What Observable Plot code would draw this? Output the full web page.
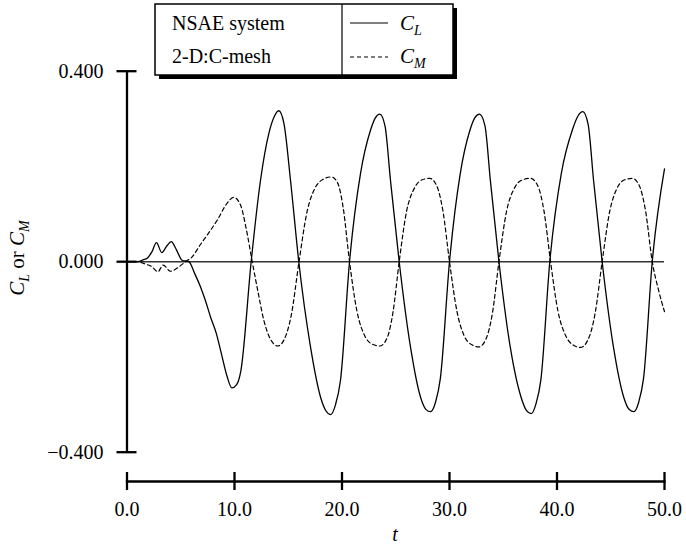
<!DOCTYPE html>
<html><head><meta charset="utf-8">
<script src="https://cdn.jsdelivr.net/npm/d3@7"></script>
<script src="https://cdn.jsdelivr.net/npm/@observablehq/plot@0.6"></script>
<style>
html,body{margin:0;padding:0;background:#fff;}
svg{display:block;}
</style>
</head><body><div id="chart"></div>
<script>
// Data: [t, value]
const cl = [[0,0],[1.0,0],[1.5,0.004],[1.9,0.008],[2.3,0.020],[2.74,0.040],[3.24,0.019],[3.7,0.033],[4.11,0.042],[4.6,0.025],[5.13,0.003],[5.75,0],[6.3,-0.025],[6.84,-0.053],[7.3,-0.082],[7.77,-0.116],[8.3,-0.150],[8.8,-0.195],[9.3,-0.240],[9.75,-0.265],[10.2,-0.258],[10.6,-0.228],[11.55,0],[12.42,0.171],[13.19,0.269],[13.7,0.305],[14.12,0.317],[14.6,0.290],[15.21,0.171],[15.98,0],[17.07,-0.179],[18.0,-0.284],[18.5,-0.313],[18.93,-0.321],[19.4,-0.300],[19.86,-0.249],[20.7,0],[21.72,0.185],[22.65,0.276],[23.1,0.302],[23.52,0.310],[24.0,0.285],[24.51,0.171],[25.32,0],[26.37,-0.179],[27.3,-0.284],[27.8,-0.310],[28.23,-0.315],[28.7,-0.295],[29.15,-0.245],[30.0,0],[31.0,0.185],[31.9,0.276],[32.35,0.302],[32.79,0.310],[33.3,0.285],[33.8,0.171],[34.6,0],[35.65,-0.179],[36.65,-0.284],[37.15,-0.312],[37.6,-0.319],[38.05,-0.298],[38.5,-0.248],[39.33,0],[40.4,0.185],[41.45,0.278],[41.95,0.306],[42.4,0.315],[42.9,0.288],[43.4,0.171],[44.2,0],[45.25,-0.179],[46.2,-0.284],[46.7,-0.310],[47.15,-0.315],[47.6,-0.295],[48.05,-0.245],[48.86,0],[50.0,0.195]];
const cm = [[0,0],[1.0,0],[1.6,-0.004],[2.34,-0.011],[2.87,-0.021],[3.36,-0.007],[4.05,-0.020],[4.82,-0.011],[5.44,0],[6.06,0.010],[6.8,0.035],[7.46,0.056],[8.39,0.087],[9.32,0.123],[9.93,0.135],[10.56,0.119],[11.1,0.068],[11.65,0],[12.2,-0.065],[12.73,-0.123],[13.4,-0.165],[14.03,-0.177],[14.65,-0.162],[15.3,-0.110],[16.0,0],[16.75,0.105],[17.5,0.155],[18.25,0.173],[19.0,0.178],[19.6,0.165],[20.1,0.115],[20.7,0],[21.4,-0.105],[22.1,-0.155],[22.8,-0.173],[23.52,-0.177],[24.2,-0.160],[24.75,-0.105],[25.32,0],[26.0,0.105],[26.75,0.155],[27.45,0.172],[28.17,0.175],[28.8,0.160],[29.4,0.105],[30.0,0],[30.7,-0.105],[31.35,-0.155],[32.05,-0.174],[32.73,-0.179],[33.4,-0.162],[34.0,-0.107],[34.6,0],[35.3,0.105],[36.05,0.155],[36.8,0.172],[37.53,0.175],[38.2,0.160],[38.8,0.105],[39.4,0],[40.1,-0.105],[40.8,-0.155],[41.5,-0.175],[42.19,-0.180],[42.9,-0.163],[43.55,-0.108],[44.2,0],[44.9,0.105],[45.6,0.155],[46.3,0.172],[47.0,0.175],[47.65,0.160],[48.25,0.105],[48.86,0],[49.45,-0.060],[50.0,-0.105]];
const xTicks = [0,10,20,30,40,50];
const yTicks = [-0.4,0,0.4];
const xDomain = [0,50];
const yDomain = [-0.4,0.4];
const legendLeft = ["NSAE system","2-D:C-mesh"];
const seriesSub = ["L","M"];

const toRows = a => a.map(([t,v]) => ({t, v}));
const font = "'Liberation Serif', 'Times New Roman', serif";

const plot = Plot.plot({
  width: 686, height: 549,
  marginLeft: 126.5, marginRight: 22, marginTop: 70.7, marginBottom: 68,
  style: {fontFamily: font, fontSize: "20px", color: "#000", background: "#fff", overflow: "visible"},
  x: {domain: xDomain},
  y: {domain: yDomain, range: [451.7, 70.7]},
  marks: [
    Plot.frame({anchor: "bottom", strokeWidth: 2.3}),
    Plot.ruleX([0], {y1: yDomain[0], y2: yDomain[1], strokeWidth: 2.3}),
    Plot.axisY({ticks: yTicks, tickFormat: d3.format(".3f"), tickSize: 20, dx: 10, tickPadding: 13.5, strokeWidth: 2.3, label: null}),
    Plot.axisX({ticks: xTicks, tickFormat: d3.format(".1f"), tickSize: 18, dy: -9, tickPadding: 11, strokeWidth: 2.3, label: null}),
    Plot.ruleY([0], {x1: xDomain[0], x2: xDomain[1], stroke: "#333", strokeWidth: 1.5}),
    Plot.line(toRows(cm), {x: "t", y: "v", curve: "monotone-x", strokeDasharray: "4,3", strokeWidth: 1.2}),
    Plot.line(toRows(cl), {x: "t", y: "v", curve: "monotone-x", strokeWidth: 1.3})
  ]
});
document.getElementById("chart").appendChild(plot);

const svg = d3.select(plot);
const txt = (sel) => sel.style("font-family", font).attr("fill", "#000");
// y-axis label
const yl = txt(svg.append("text"))
  .attr("transform", "translate(24,258) rotate(-90)")
  .attr("text-anchor", "middle").style("font-size", "21px");
yl.append("tspan").style("font-style", "italic").text("C");
yl.append("tspan").style("font-style", "italic").style("font-size", "14px").attr("dy", 5).text("L");
yl.append("tspan").attr("dy", -5).text(" or ");
yl.append("tspan").style("font-style", "italic").text("C");
yl.append("tspan").style("font-style", "italic").style("font-size", "14px").attr("dy", 5).text("M");
// x-axis label
txt(svg.append("text")).attr("x", 395).attr("y", 541).attr("text-anchor", "middle")
  .style("font-size", "20px").style("font-style", "italic").text("t");

// legend box
const lg = svg.append("g");
lg.append("rect").attr("x", 159).attr("y", 8).attr("width", 298).attr("height", 71).attr("fill", "#000");
lg.append("rect").attr("x", 155).attr("y", 4).attr("width", 298).attr("height", 71).attr("fill", "#fff").attr("stroke", "#000").attr("stroke-width", 1.5);
lg.append("line").attr("x1", 342).attr("x2", 342).attr("y1", 4).attr("y2", 75).attr("stroke", "#000").attr("stroke-width", 1.2);
legendLeft.forEach((s, i) => {
  txt(lg.append("text")).attr("x", 172).attr("y", 30 + i * 33).attr("text-anchor", "start").style("font-size", "20px").text(s);
});
lg.append("line").attr("x1", 350).attr("x2", 388).attr("y1", 23).attr("y2", 23).attr("stroke", "#000").attr("stroke-width", 1.2);
lg.append("line").attr("x1", 350).attr("x2", 388).attr("y1", 57).attr("y2", 57).attr("stroke", "#000").attr("stroke-width", 1.2).attr("stroke-dasharray", "4,3");
seriesSub.forEach((s, i) => {
  const t = txt(lg.append("text")).attr("x", 400).attr("y", 30 + i * 33).attr("text-anchor", "start").style("font-size", "21px").style("font-style", "italic");
  t.append("tspan").text("C");
  t.append("tspan").style("font-size", "14px").attr("dy", 5).text(s);
});
</script>
</body></html>
